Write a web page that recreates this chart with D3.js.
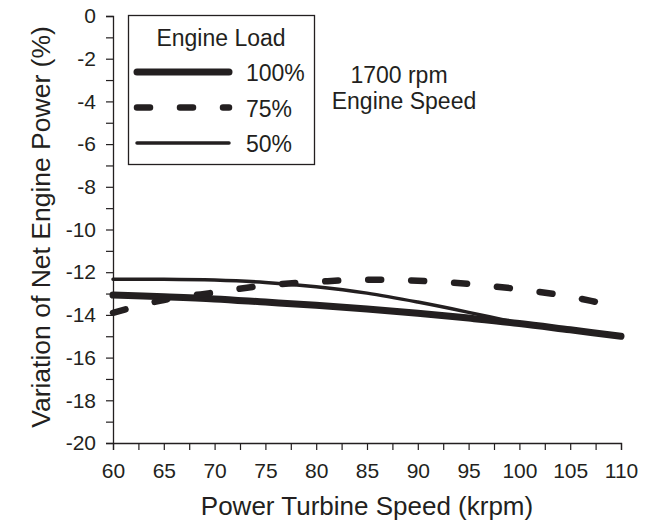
<!DOCTYPE html>
<html>
<head>
<meta charset="utf-8">
<script src="https://cdn.jsdelivr.net/npm/d3@7"></script>
<style>
    body { margin: 0; background: #fff; }
    text { font-family: "Liberation Sans", Arial, sans-serif; fill: #231f20; }
</style>
</head>
<body>
<svg id="chart"></svg>
<script>
// chart data
var speed = [60, 65, 70, 75, 80, 85, 90, 95, 100, 105, 110];
var load100 = [-13.07, -13.15, -13.25, -13.4, -13.55, -13.72, -13.92, -14.15, -14.4, -14.7, -15.0];
var load75 = [-13.9, -13.3, -12.95, -12.62, -12.45, -12.35, -12.4, -12.55, -12.8, -13.15, -13.65];
var load50 = [-12.33, -12.33, -12.37, -12.48, -12.68, -12.98, -13.4, -13.88, -14.4];
var xTicks = [60, 65, 70, 75, 80, 85, 90, 95, 100, 105, 110];
var yTicks = [0, -2, -4, -6, -8, -10, -12, -14, -16, -18, -20];
var legendLabels = ["100%", "75%", "50%"];

const chartW = 652,
    chartH = 523,
    ink = "#231f20";

var svg = d3.select("#chart")
    .attr("width", chartW)
    .attr("height", chartH);

var xScale = d3.scaleLinear().domain([60, 110]).range([113, 621]);
var yScale = d3.scaleLinear().domain([-20, 0]).range([443, 16]);

// minor ticks every 2.5 krpm and every 1 %
var xMinor = d3.range(60, 110.01, 2.5);
var yMinor = d3.range(-20, 0.01, 1);

var xAxis = d3.axisBottom(xScale)
    .tickValues(xMinor)
    .tickSize(7)
    .tickPadding(13)
    .tickFormat(function(d) { return xTicks.indexOf(d) >= 0 ? String(d) : ""; });
var yAxis = d3.axisLeft(yScale)
    .tickValues(yMinor)
    .tickSize(7)
    .tickPadding(10)
    .tickFormat(function(d) { return yTicks.indexOf(d) >= 0 ? String(d) : ""; });

var gx = svg.append("g")
    .attr("transform", "translate(0," + yScale(-20) + ")")
    .call(xAxis);
var gy = svg.append("g")
    .attr("transform", "translate(" + xScale(60) + ",0)")
    .call(yAxis);

[gx, gy].forEach(function(g) {
    g.select(".domain").attr("stroke", ink).attr("stroke-width", 1.3);
    g.selectAll(".tick line").attr("stroke", ink).attr("stroke-width", 1.2);
    g.selectAll(".tick text")
        .style("font-size", "21px")
        .attr("fill", ink);
});

// axis titles
svg.append("text")
    .attr("x", (xScale(60) + xScale(110)) / 2)
    .attr("y", 515)
    .attr("text-anchor", "middle")
    .style("font-size", "26px")
    .text("Power Turbine Speed (krpm)");
svg.append("text")
    .attr("transform", "translate(50,227) rotate(-90)")
    .attr("text-anchor", "middle")
    .style("font-size", "26.5px")
    .text("Variation of Net Engine Power (%)");

// curves
var line = d3.line()
    .x(function(d) { return xScale(d[0]); })
    .y(function(d) { return yScale(d[1]); })
    .curve(d3.curveCatmullRom);

var series = [
    {values: load100, width: 7, dash: null},
    {values: load75, width: 6.5, dash: "13 30"},
    {values: load50, width: 3.5, dash: null}
];

series.forEach(function(s) {
    svg.append("path")
        .datum(s.values.map(function(v, i) { return [speed[i], v]; }))
        .attr("d", line)
        .attr("fill", "none")
        .attr("stroke", ink)
        .attr("stroke-width", s.width)
        .attr("stroke-linecap", "round")
        .attr("stroke-dasharray", s.dash);
});

// legend
var legend = svg.append("g");
legend.append("rect")
    .attr("x", 128.5)
    .attr("y", 15.5)
    .attr("width", 186)
    .attr("height", 149)
    .attr("fill", "#fff")
    .attr("stroke", ink)
    .attr("stroke-width", 1.3);
legend.append("text")
    .attr("x", 221)
    .attr("y", 46)
    .attr("text-anchor", "middle")
    .style("font-size", "23px")
    .text("Engine Load");

var rowY = [72, 107.5, 143];
series.forEach(function(s, i) {
    legend.append("line")
        .attr("x1", 137)
        .attr("x2", 229)
        .attr("y1", rowY[i])
        .attr("y2", rowY[i])
        .attr("stroke", ink)
        .attr("stroke-width", s.width)
        .attr("stroke-linecap", "round")
        .attr("stroke-dasharray", s.dash);
    legend.append("text")
        .attr("x", 246)
        .attr("y", rowY[i] + 9)
        .style("font-size", "23px")
        .text(legendLabels[i]);
});

// annotation
svg.append("text")
    .attr("x", 399)
    .attr("y", 83)
    .attr("text-anchor", "middle")
    .style("font-size", "23px")
    .text("1700 rpm");
svg.append("text")
    .attr("x", 404)
    .attr("y", 109)
    .attr("text-anchor", "middle")
    .style("font-size", "23px")
    .text("Engine Speed");
</script>
</body>
</html>
